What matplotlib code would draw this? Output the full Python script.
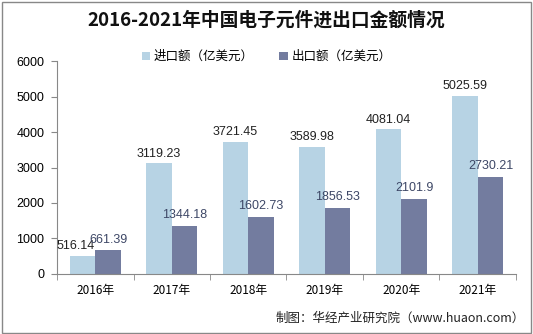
import matplotlib
matplotlib.use("Agg")
import matplotlib.pyplot as plt
from matplotlib.patches import Rectangle
import numpy as np

plt.rcParams['font.family'] = ['Noto Sans CJK SC', 'DejaVu Sans']

years = ["2016年", "2017年", "2018年", "2019年", "2020年", "2021年"]
imports = [516.14, 3119.23, 3721.45, 3589.98, 4081.04, 5025.59]
exports = [661.39, 1344.18, 1602.73, 1856.53, 2101.9, 2730.21]
import_label = "进口额（亿美元）"
export_label = "出口额（亿美元）"
title = "2016-2021年中国电子元件进出口金额情况"
source = "制图：华经产业研究院（www.huaon.com）"

c_imp = "#b7d3e4"
c_exp = "#737c9f"
num_font = "Liberation Sans"

fig = plt.figure(figsize=(5.33, 3.34), dpi=100)
ax = fig.add_axes([0.107, 0.180, 0.861, 0.637])

x = np.arange(len(years))
w = 0.335
b1 = ax.bar(x - w / 2, imports, w, color=c_imp, label=import_label)
b2 = ax.bar(x + w / 2, exports, w, color=c_exp, label=export_label)

for i, (xi, v) in enumerate(zip(x, imports)):
    # the first label sits low beside a taller neighbour, so nudge it left
    dx = -5 if imports[i] < exports[i] else 0
    ax.annotate(f"{v:g}", (xi - w / 2, v), xytext=(dx, 2.5),
                textcoords="offset points", ha="center", va="bottom",
                fontsize=9, color="#222222", family=num_font)
for xi, v in zip(x, exports):
    ax.annotate(f"{v:g}", (xi + w / 2, v), xytext=(0, 3.5),
                textcoords="offset points", ha="center", va="bottom",
                fontsize=9, color="#3d4766", family=num_font)

ax.set_xlim(-0.5, len(years) - 0.5)
ax.set_ylim(0, 6000)
ax.set_yticks(range(0, 6001, 1000))
ax.set_xticks(x)
ax.set_xticklabels(years, fontsize=8.5)
ax.set_xticks(np.arange(-0.5, len(years)), minor=True)
ax.tick_params(axis="x", which="major", length=0, pad=7)
ax.tick_params(axis="x", which="minor", length=4, color="#888888")
ax.tick_params(axis="y", length=4, color="#888888", labelsize=9, pad=5)
for t in ax.get_yticklabels():
    t.set_family(num_font)

for s in ["top", "right"]:
    ax.spines[s].set_visible(False)
for s in ["left", "bottom"]:
    ax.spines[s].set_color("#888888")
    ax.spines[s].set_linewidth(0.8)

fig.text(0.5, 0.94, title, ha="center", va="center", fontsize=13.5,
         fontweight="bold", color="#111111")
fig.legend(handles=[b1, b2], loc="center", bbox_to_anchor=(0.5, 0.83),
           ncol=2, frameon=False, fontsize=9, handlelength=0.7,
           handleheight=0.7, columnspacing=2.0, handletextpad=0.3)
fig.text(0.985, 0.048, source, ha="right", va="center", fontsize=9,
         color="#222222")

fig.patches.append(Rectangle((0.004, 0.004), 0.992, 0.99, transform=fig.transFigure,
                             fill=False, edgecolor="#888888", linewidth=1.0))

fig.savefig("out.png", dpi=100)
